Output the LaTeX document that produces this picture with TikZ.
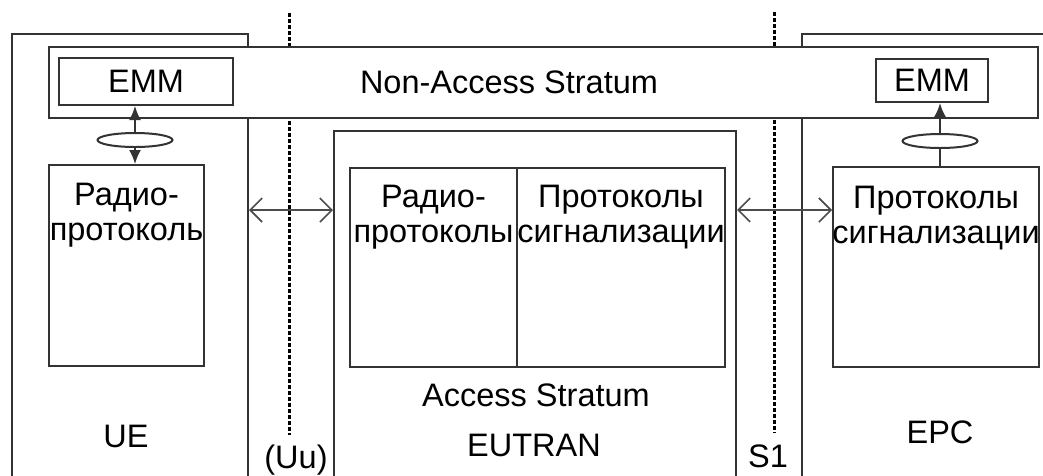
\documentclass[tikz,border=0pt]{standalone}
\usepackage{fontspec}
\setmainfont{Liberation Sans}
\usetikzlibrary{arrows.meta,positioning,shapes.geometric}
\colorlet{linecol}{black!80}
\tikzset{
  box/.style={draw=linecol, line width=2pt, fill=white, inner sep=0pt, anchor=north west},
  lbl/.style={font=\fontsize{32.5}{35}\selectfont, inner sep=0pt, align=center},
  ell/.style={ellipse, draw=linecol, line width=2pt, fill=white, inner sep=0pt,
    minimum width=75pt, minimum height=14pt},
  sepline/.style={line width=3pt, dash pattern=on 3.5pt off 2.5pt},
  uparrow/.style={draw=linecol, line width=2pt, -{Latex[length=14pt,width=12pt]}},
  ifarrow/.style={draw=black!70, line width=1.6pt,
    {Straight Barb[length=12pt,width=24pt]}-{Straight Barb[length=12pt,width=24pt]}}
}
\begin{document}
\begin{tikzpicture}[x=1pt,y=-1pt]
\useasboundingbox (0,0) rectangle (1043,475);
\clip (0,0) rectangle (1043,475);
% outer frames, open at the bottom
\node[box, minimum width=236pt, minimum height=460pt] (ue) at (11,33) {};
\node[box, minimum width=260pt, minimum height=460pt] (epc) at (801,33) {};
\node[box, minimum width=402pt, minimum height=400pt] (eutran) at (333,130) {};
% reference points
\coordinate (uuTop) at (289,13);
\coordinate (uuBot) at (289,435);
\coordinate (s1Top) at (774,12);
\coordinate (s1Bot) at (774,433);
\coordinate (ifY) at (0,210);
\draw[sepline] (uuTop) -- (uuBot);
\draw[sepline] (s1Top) -- (s1Bot);
% NAS
\node[box, minimum width=989pt, minimum height=71pt] (nas) at (48,46) {};
\node[lbl, anchor=base] (nasLbl) at (509,93) {Non-Access Stratum};
\node[box, lbl, minimum width=174pt, minimum height=47pt] (emmUE) at (58,57) {EMM};
\node[box, lbl, minimum width=112pt, minimum height=43pt] (emmEPC) at (875,58) {EMM};
% protocol boxes
\node[box, minimum width=155pt, minimum height=201pt] (radioUE) at (48,164) {};
\node[box, minimum width=167pt, minimum height=199pt] (radioE) at (349,167) {};
\node[box, minimum width=208pt, minimum height=199pt] (sigE) at (516,167) {};
\node[box, minimum width=206pt, minimum height=200pt] (sigEPC) at (832,166) {};
\node[lbl, below=19pt of radioUE.north] (radioUELbl) {Радио-\\протоколь};
\node[lbl, below=18pt of radioE.north] (radioELbl) {Радио-\\протоколы};
\node[lbl, below=18pt of sigE.north] (sigELbl) {Протоколы\\сигнализации};
\node[lbl, below=20pt of sigEPC.north] (sigEPCLbl) {Протоколы\\сигнализации};
% SAP ellipses
\node[ell] (ellUE) at (135,140) {};
\node[ell] (ellEPC) at (940,141) {};
\draw[uparrow] (ellUE.north) -- (ellUE.north |- emmUE.south);
\draw[uparrow] (ellUE.south) -- (ellUE.south |- radioUE.north);
\draw[uparrow] (ellEPC.north) -- (ellEPC.north |- emmEPC.south);
\draw[draw=linecol, line width=2pt] (ellEPC.south) -- (ellEPC.south |- sigEPC.north);
% interfaces
\draw[ifarrow] (ue.east |- ifY) -- (eutran.west |- ifY);
\draw[ifarrow] (eutran.east |- ifY) -- (sigEPC.west |- ifY);
% bottom labels
\node[lbl, anchor=base] (ueLbl) at (126,447) {UE};
\node[lbl, anchor=base] (uuLbl) at (296,468) {(Uu)};
\node[lbl, anchor=base] (asLbl) at (536,406) {Access Stratum};
\node[lbl, anchor=base] (eutranLbl) at (534,456) {EUTRAN};
\node[lbl, anchor=base] (s1Lbl) at (768,467) {S1};
\node[lbl, anchor=base] (epcLbl) at (940,443) {EPC};
\end{tikzpicture}
\end{document}
